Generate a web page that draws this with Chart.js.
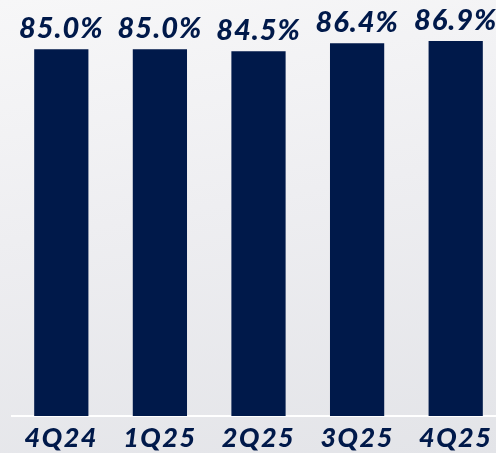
<!DOCTYPE html>
<html>
<head>
<meta charset="utf-8">
<script src="https://cdn.jsdelivr.net/npm/chart.js@4/dist/chart.umd.min.js"></script>
<style>
  html, body {
    margin: 0;
    padding: 0;
    width: 496px;
    height: 453px;
    overflow: hidden;
    background: linear-gradient(170deg, #f7f7f8 0%, #eeeef1 45%, #e3e4e8 100%);
  }
  #wrap { position: relative; width: 505px; height: 453px; }
  canvas { display: block; }
</style>
</head>
<body>
<div id="wrap"><canvas id="chart" width="505" height="453"></canvas></div>
<script>
// Quarters and their values (%)
const quarters = ["4Q24", "1Q25", "2Q25", "3Q25", "4Q25"];
const values = [85.0, 85.0, 84.5, 86.4, 86.9];

const navy = "#00194a";
const labelFont = "Lato";

// A little extra letter spacing (the original font is wide)
const spacing = {
  id: "spacing",
  beforeDraw(chart) {
    chart.ctx.letterSpacing = "1.5px";
  },
};

// Draw the value labels above each bar
const valueLabels = {
  id: "valueLabels",
  afterDatasetsDraw(chart) {
    const ctx = chart.ctx;
    const meta = chart.getDatasetMeta(0);
    ctx.save();
    ctx.letterSpacing = "1px";
    ctx.fillStyle = navy;
    ctx.font = "italic 900 29px " + labelFont;
    ctx.textAlign = "center";
    ctx.textBaseline = "alphabetic";
    meta.data.forEach((bar, i) => {
      ctx.fillText(values[i].toFixed(1) + "%", bar.x, bar.y - 11);
    });
    ctx.restore();
  },
};

const chart = new Chart(document.getElementById("chart"), {
  type: "bar",
  data: {
    labels: quarters,
    datasets: [
      {
        data: values,
        backgroundColor: navy,
        barPercentage: 0.55,
        categoryPercentage: 1,
      },
    ],
  },
  options: {
    responsive: false,
    maintainAspectRatio: false,
    animation: false,
    layout: { padding: { left: 12, right: 0, top: 0, bottom: 0 } },
    plugins: {
      legend: { display: false },
      tooltip: { enabled: false },
    },
    scales: {
      x: {
        grid: { display: false, drawTicks: false },
        border: { color: "#ffffff", width: 2 },
        afterFit: (scale) => { scale.height = 37; },
        ticks: {
          color: navy,
          padding: 6,
          maxRotation: 0,
          minRotation: 0,
          autoSkip: false,
          font: { family: labelFont, size: 27, weight: "900", style: "italic" },
        },
      },
      y: {
        display: false,
        min: 0,
        max: 96.4,
      },
    },
  },
  plugins: [spacing, valueLabels],
});
</script>
</body>
</html>
